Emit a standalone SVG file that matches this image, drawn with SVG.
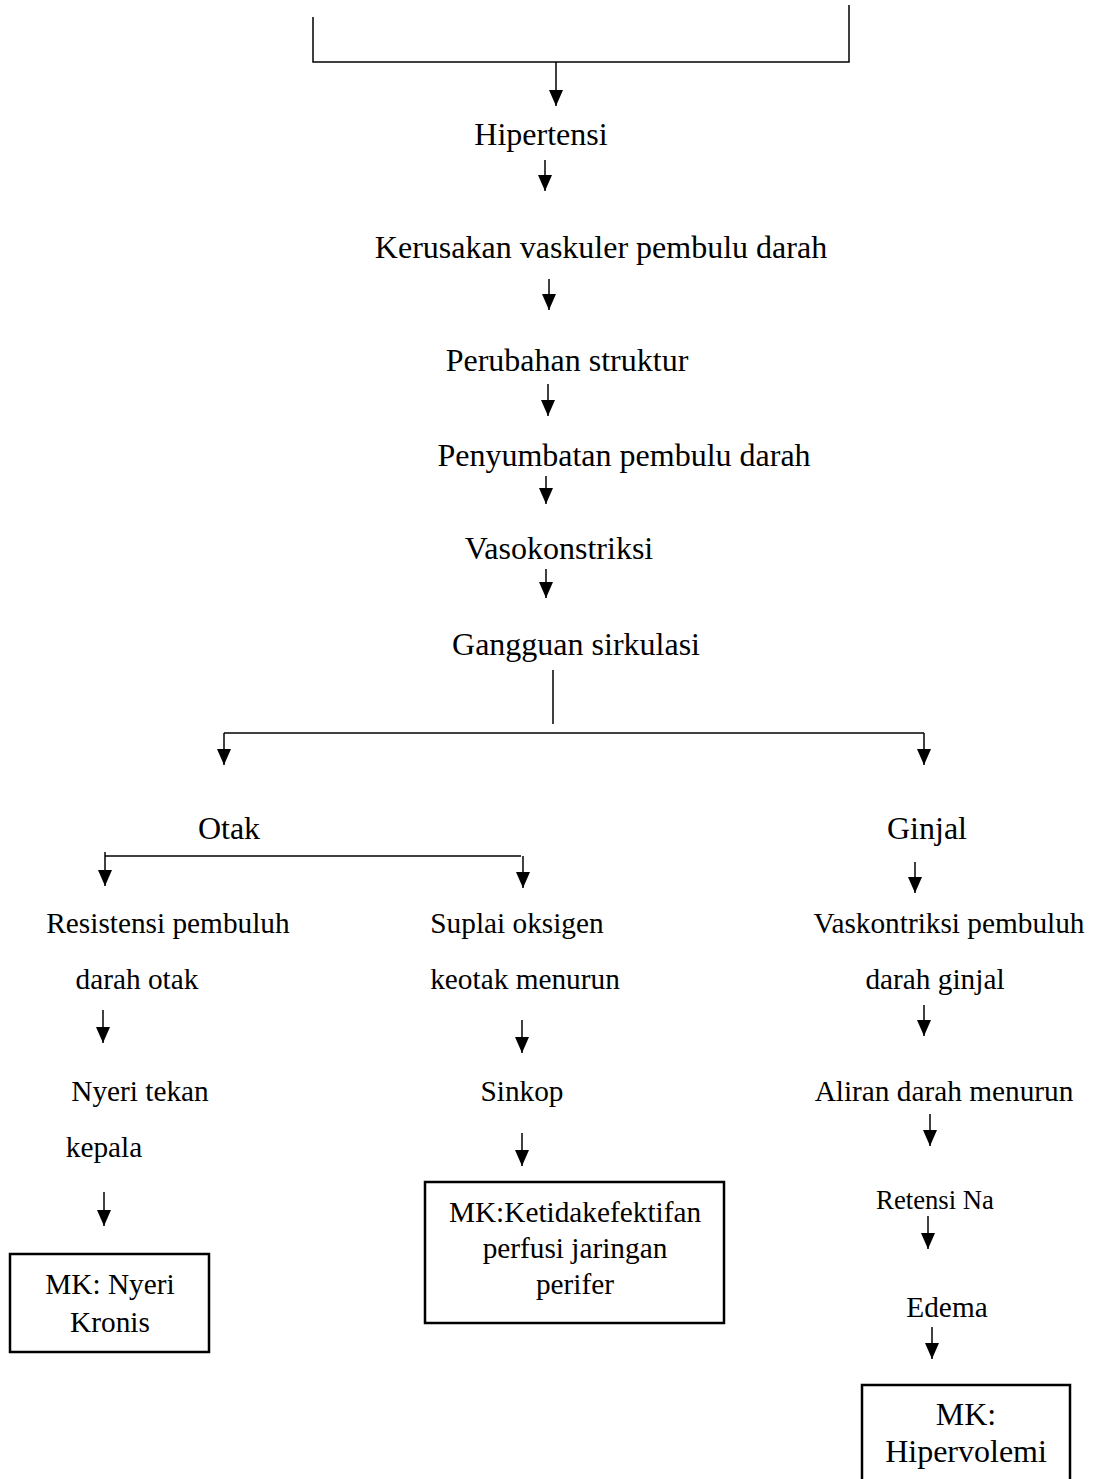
<svg xmlns="http://www.w3.org/2000/svg" width="1096" height="1479" viewBox="0 0 1096 1479">
<style>
text{font-family:"Liberation Serif","Times New Roman",serif;font-size:32px;fill:#000;text-anchor:middle}
text.m{font-size:29.3px}
text.sm{font-size:26.7px}
.c line,.c polyline{stroke:#000;stroke-width:1.5;fill:none}
.box{fill:#fff;stroke:#000;stroke-width:2.5}
</style>
<defs>
<marker id="ah" viewBox="0 0 16 14" refX="16" refY="7" markerWidth="16" markerHeight="14" markerUnits="userSpaceOnUse" orient="auto">
<path d="M0,0 L16,7 L0,14 z" fill="#000"/>
</marker>
</defs>
<rect width="1096" height="1479" fill="#fff"/>
<g id="connectors" class="c">
<polyline points="313,17 313,62 849,62 849,5"/>
<line x1="556" y1="62" x2="556" y2="106" marker-end="url(#ah)"/>
<line x1="545" y1="160" x2="545" y2="191" marker-end="url(#ah)"/>
<line x1="549" y1="279" x2="549" y2="310" marker-end="url(#ah)"/>
<line x1="548" y1="384" x2="548" y2="416" marker-end="url(#ah)"/>
<line x1="546" y1="476" x2="546" y2="504" marker-end="url(#ah)"/>
<line x1="546" y1="569" x2="546" y2="598" marker-end="url(#ah)"/>
<line x1="553" y1="670" x2="553" y2="724"/>
<line x1="224" y1="733" x2="924" y2="733"/>
<line x1="224" y1="733" x2="224" y2="765" marker-end="url(#ah)"/>
<line x1="924" y1="733" x2="924" y2="765" marker-end="url(#ah)"/>
<line x1="105" y1="856" x2="521" y2="856"/>
<line x1="105" y1="852" x2="105" y2="886" marker-end="url(#ah)"/>
<line x1="523" y1="856" x2="523" y2="888" marker-end="url(#ah)"/>
<line x1="915" y1="862" x2="915" y2="893" marker-end="url(#ah)"/>
<line x1="103" y1="1010" x2="103" y2="1043" marker-end="url(#ah)"/>
<line x1="104" y1="1192" x2="104" y2="1226" marker-end="url(#ah)"/>
<line x1="522" y1="1020" x2="522" y2="1053" marker-end="url(#ah)"/>
<line x1="522" y1="1133" x2="522" y2="1166" marker-end="url(#ah)"/>
<line x1="924" y1="1005" x2="924" y2="1036" marker-end="url(#ah)"/>
<line x1="930" y1="1114" x2="930" y2="1146" marker-end="url(#ah)"/>
<line x1="928" y1="1216" x2="928" y2="1249" marker-end="url(#ah)"/>
<line x1="932" y1="1327" x2="932" y2="1359" marker-end="url(#ah)"/>
</g>
<g id="n-hipertensi"><text x="541" y="145">Hipertensi</text></g>
<g id="n-kerusakan"><text x="601" y="258">Kerusakan vaskuler pembulu darah</text></g>
<g id="n-perubahan"><text x="567" y="371">Perubahan struktur</text></g>
<g id="n-penyumbatan"><text x="624" y="466">Penyumbatan pembulu darah</text></g>
<g id="n-vasokonstriksi"><text x="559" y="559">Vasokonstriksi</text></g>
<g id="n-gangguan"><text x="576" y="655">Gangguan sirkulasi</text></g>
<g id="n-otak"><text x="229" y="839">Otak</text></g>
<g id="n-ginjal"><text x="927" y="839">Ginjal</text></g>
<g id="n-resistensi"><text class="m" x="168" y="933">Resistensi pembuluh</text><text class="m" x="137" y="989">darah otak</text></g>
<g id="n-nyeri"><text class="m" x="140" y="1101">Nyeri tekan</text><text class="m" x="104" y="1157">kepala</text></g>
<g id="n-mk-nyeri"><rect class="box" x="10" y="1254" width="199" height="98"/><text class="m" x="110" y="1294">MK: Nyeri</text><text class="m" x="110" y="1332">Kronis</text></g>
<g id="n-suplai"><text class="m" x="517" y="933">Suplai oksigen</text><text class="m" x="525" y="989">keotak menurun</text></g>
<g id="n-sinkop"><text class="m" x="522" y="1101">Sinkop</text></g>
<g id="n-mk-perfusi"><rect class="box" x="425" y="1182" width="299" height="141"/><text class="m" x="575" y="1222">MK:Ketidakefektifan</text><text class="m" x="575" y="1258">perfusi jaringan</text><text class="m" x="575" y="1294">perifer</text></g>
<g id="n-vaskontriksi"><text class="m" x="949" y="933">Vaskontriksi pembuluh</text><text class="m" x="935" y="989">darah ginjal</text></g>
<g id="n-aliran"><text class="m" x="944" y="1101">Aliran darah menurun</text></g>
<g id="n-retensi"><text class="sm" x="935" y="1209">Retensi Na</text></g>
<g id="n-edema"><text class="m" x="947" y="1317">Edema</text></g>
<g id="n-mk-hiper"><rect class="box" x="862" y="1385" width="208" height="110"/><text x="966" y="1425">MK:</text><text x="966" y="1462">Hipervolemi</text></g>
</svg>
